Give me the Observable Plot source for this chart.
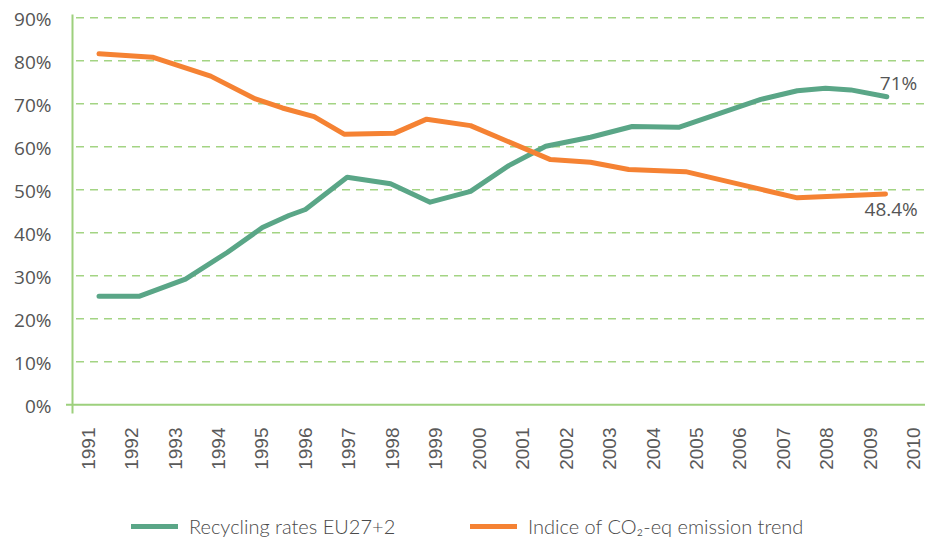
<!DOCTYPE html>
<html>
<head>
<meta charset="utf-8">
<script src="https://cdn.jsdelivr.net/npm/d3@7"></script>
<script src="https://cdn.jsdelivr.net/npm/@observablehq/plot@0.6"></script>
<style>
  html, body { margin: 0; padding: 0; background: #fff; }
  #chart { width: 928px; }
  .legend { position: relative; height: 47px; font-family: "Lato", "Liberation Sans", sans-serif; font-weight: 300; font-size: 20px; color: #4a4a4a; }
  .item { position: absolute; top: 24px; display: flex; align-items: center; white-space: nowrap; }
  .sw { width: 47px; height: 5px; margin-right: 11px; }
</style>
</head>
<body>
<div id="chart"></div>
<script>
// Tick values
const yearTicks = [1991,1992,1993,1994,1995,1996,1997,1998,1999,2000,2001,2002,2003,2004,2005,2006,2007,2008,2009,2010];
const yTicks = [0,10,20,30,40,50,60,70,80,90];
const gridTicks = [10,20,30,40,50,60,70,80,90];

// Series: Recycling rates EU27+2 (vertex positions)
const recYears  = [1991.24,1992.16,1993.23,1994.19,1995.0,1995.61,1995.99,1996.95,1997.95,1998.86,1999.79,2000.67,2001.52,2002.55,2003.51,2004.58,2006.47,2007.31,2007.96,2008.54,2009.37];
const recValues = [25.2,25.2,29.2,35.4,41.2,44.0,45.4,52.9,51.4,47.1,49.6,55.6,60.1,62.2,64.7,64.5,71.0,73.0,73.6,73.2,71.6];

// Series: Indice of CO2-eq emission trend
const co2Years  = [1991.24,1992.47,1993.81,1994.84,1995.46,1996.19,1996.88,1998.03,1998.78,1999.79,2001.63,2002.55,2003.43,2004.74,2007.31,2009.34];
const co2Values = [81.6,80.8,76.4,71.1,69.0,67.0,62.9,63.1,66.4,64.9,57.0,56.4,54.7,54.2,48.1,49.0];

const seriesNames = ["Recycling rates EU27+2", "Indice of CO\u2082-eq emission trend"];
const endLabels = ["71%", "48.4%"];

const green = "#5aa687";
const orange = "#f58233";
const gridColor = "#a3d483";
const axisColor = "#9dd07d";
const textColor = "#555555";

const rec = recYears.map((x, i) => ({x, y: recValues[i]}));
const co2 = co2Years.map((x, i) => ({x, y: co2Values[i]}));

const chart = Plot.plot({
  width: 928,
  height: 490,
  marginLeft: 72,
  marginRight: 3,
  marginTop: 15,
  marginBottom: 78,
  x: {domain: [1990.63, 2010.26]},
  y: {domain: [-1.8, 90.5]},
  style: {fontFamily: "Liberation Sans, Arial, sans-serif", color: textColor, background: "#fff"},
  marks: [
    Plot.ruleY(gridTicks, {stroke: gridColor, strokeWidth: 1.5, strokeDasharray: "8,6", insetLeft: 4}),
    Plot.ruleY([0], {stroke: axisColor, strokeWidth: 2, insetLeft: -6}),
    Plot.frame({anchor: "left", stroke: axisColor, strokeWidth: 2}),
    Plot.axisY(yTicks, {tickSize: 0, tickPadding: 21, tickFormat: d => d + "%", fontSize: 19, fontFamily: "Open Sans", fill: textColor, label: null, dy: 2}),
    Plot.axisX(yearTicks, {tickSize: 0, tickRotate: -90, tickPadding: 15, tickFormat: d => String(d), fontSize: 19, fill: "#5a5a5a", label: null}),
    Plot.line(rec, {x: "x", y: "y", stroke: green, strokeWidth: 5, strokeLinejoin: "round"}),
    Plot.line(co2, {x: "x", y: "y", stroke: orange, strokeWidth: 5, strokeLinejoin: "round"}),
    Plot.text([rec[rec.length - 1]], {x: "x", y: "y", text: () => endLabels[0], textAnchor: "start", lineAnchor: "bottom", dx: -7, dy: -7, fontSize: 19, fontFamily: "Open Sans", fill: textColor}),
    Plot.text([co2[co2.length - 1]], {x: "x", y: "y", text: () => endLabels[1], textAnchor: "start", lineAnchor: "top", dx: -21, dy: 9, fontSize: 19, fontFamily: "Open Sans", fill: textColor})
  ]
});
document.getElementById("chart").appendChild(chart);

const legend = document.createElement("div");
legend.className = "legend";
const lefts = [131, 470];
[green, orange].forEach((c, i) => {
  const item = document.createElement("div");
  item.className = "item";
  item.style.left = lefts[i] + "px";
  const sw = document.createElement("span");
  sw.className = "sw";
  sw.style.background = c;
  const t = document.createElement("span");
  t.textContent = seriesNames[i];
  item.appendChild(sw);
  item.appendChild(t);
  legend.appendChild(item);
});
document.getElementById("chart").appendChild(legend);
</script>
</body>
</html>
